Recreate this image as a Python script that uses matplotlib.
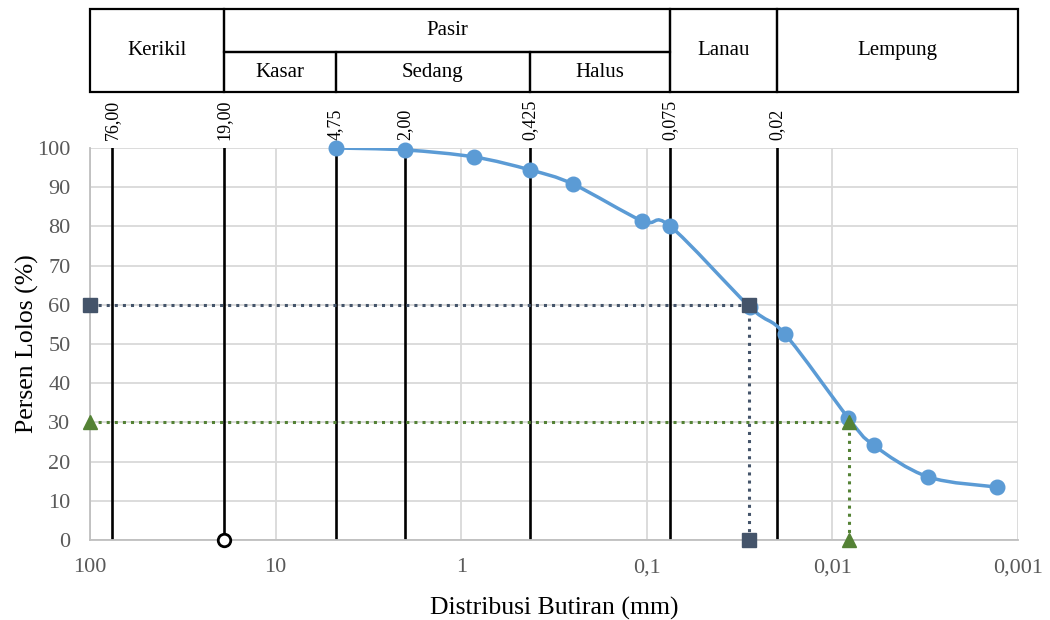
import numpy as np
import matplotlib
matplotlib.use('Agg')
import matplotlib.pyplot as plt
from matplotlib.path import Path
from matplotlib.patches import PathPatch, Rectangle

plt.rcParams['font.family'] = ['Liberation Serif', 'DejaVu Serif']

# grain size distribution (sieve + hydrometer)
diameter_mm = [4.75, 2.0, 0.85, 0.425, 0.25, 0.106, 0.075,
               0.0278, 0.018, 0.0082, 0.006, 0.00305, 0.0013]
passing_pct = [100, 99.5, 97.7, 94.4, 90.8, 81.4, 80.1,
               59.4, 52.5, 31.1, 24.2, 16.1, 13.5]

# soil class boundaries
boundary_mm = [76.0, 19.0, 4.75, 2.0, 0.425, 0.075, 0.02]
boundary_labels = ['76,00', '19,00', '4,75', '2,00', '0,425', '0,075', '0,02']

# D60 / D30 readings
d60_mm = 0.028
d30_mm = 0.0081

x_ticks = [100, 10, 1, 0.1, 0.01, 0.001]
x_ticklabels = ['100', '10', '1', '0,1', '0,01', '0,001']

# classification header: name, coarse edge, fine edge, row (0 full, 1 top, 2 bottom)
classes = [
    ('Kerikil', 100, 19, 0),
    ('Pasir', 19, 0.075, 1),
    ('Kasar', 19, 4.75, 2),
    ('Sedang', 4.75, 0.425, 2),
    ('Halus', 0.425, 0.075, 2),
    ('Lanau', 0.075, 0.02, 0),
    ('Lempung', 0.02, 0.001, 0),
]

BLUE = '#5B9BD5'
SLATE = '#44546A'
GREEN = '#548235'
GRID = '#D9D9D9'
TICK = '#595959'


def smooth_path(xs, ys):
    # cubic bezier through the points, built in log-x space
    p = np.column_stack([np.log10(xs), ys]).astype(float)
    n = len(p)
    verts = [p[0]]
    codes = [Path.MOVETO]
    for i in range(n - 1):
        p0 = p[i - 1] if i > 0 else p[i]
        p3 = p[i + 2] if i + 2 < n else p[i + 1]
        c1 = p[i] + (p[i + 1] - p0) / 6.0
        c2 = p[i + 1] - (p3 - p[i]) / 6.0
        verts += [c1, c2, p[i + 1]]
        codes += [Path.CURVE4] * 3
    verts = np.array(verts)
    verts[:, 0] = 10 ** verts[:, 0]
    return Path(verts, codes)


fig = plt.figure(figsize=(10.5, 6.2), dpi=100)
L, R = 90 / 1050, 1018 / 1050
ax = fig.add_axes([L, 1 - 540 / 620, R - L, (540 - 148) / 620])

ax.set_xscale('log')
ax.set_xlim(100, 0.001)
ax.set_ylim(0, 100)
ax.set_xticks(x_ticks)
ax.set_xticklabels(x_ticklabels)
ax.set_yticks(range(0, 101, 10))
ax.minorticks_off()
ax.tick_params(length=0, labelsize=16, colors=TICK)
ax.tick_params(axis='x', pad=13)
ax.tick_params(axis='y', pad=14)
ax.grid(True, color=GRID, lw=1.3)
ax.set_axisbelow(True)
for s in ['top', 'right']:
    ax.spines[s].set_visible(False)
for s in ['left', 'bottom']:
    ax.spines[s].set_color('#BFBFBF')
    ax.spines[s].set_linewidth(1.3)

# class boundary lines with their labels
for b, lab in zip(boundary_mm, boundary_labels):
    ax.plot([b, b], [0, 100], color='black', lw=1.9, zorder=2)
    ax.annotate(lab, xy=(b, 1.0), xycoords=('data', 'axes fraction'),
                xytext=(0, 6), textcoords='offset points',
                rotation=90, ha='center', va='bottom', fontsize=13)
ax.plot([19], [0], 'o', mfc='white', mec='black', mew=2, ms=9,
        zorder=6, clip_on=False)

# D60 and D30 guides
ax.plot([100, d60_mm, d60_mm], [60, 60, 0], ls=':', color=SLATE, lw=2.2, zorder=3)
ax.plot([100, d60_mm, d60_mm], [60, 60, 0], ls='none', marker='s', ms=10,
        color=SLATE, zorder=5, clip_on=False)
ax.plot([100, d30_mm, d30_mm], [30, 30, 0], ls=':', color=GREEN, lw=2.2, zorder=3)
ax.plot([100, d30_mm, d30_mm], [30, 30, 0], ls='none', marker='^', ms=10,
        color=GREEN, zorder=5, clip_on=False)

# distribution curve
ax.add_patch(PathPatch(smooth_path(diameter_mm, passing_pct), fill=False,
                       edgecolor=BLUE, lw=2.5, zorder=4))
ax.plot(diameter_mm, passing_pct, ls='none', marker='o', ms=10.5,
        color=BLUE, zorder=4, clip_on=False)

ax.set_xlabel('Distribusi Butiran (mm)', fontsize=18.5, labelpad=14)
ax.set_ylabel('Persen Lolos (%)', fontsize=18.5, labelpad=-1)

# classification header above the plot
tab = fig.add_axes([L, 1 - 92 / 620, R - L, (92 - 9) / 620])
tab.set_xscale('log')
tab.set_xlim(100, 0.001)
tab.set_ylim(0, 1)
tab.axis('off')
rows = {0: (0.0, 1.0), 1: (0.48, 0.52), 2: (0.0, 0.48)}
for name, x0, x1, row in classes:
    y0, h = rows[row]
    tab.add_patch(Rectangle((x1, y0), x0 - x1, h, fill=False,
                            edgecolor='black', lw=1.6, clip_on=False))
    tab.text(np.sqrt(x0 * x1), y0 + h / 2, name, ha='center', va='center',
             fontsize=15)

fig.savefig('out.png', dpi=100)
